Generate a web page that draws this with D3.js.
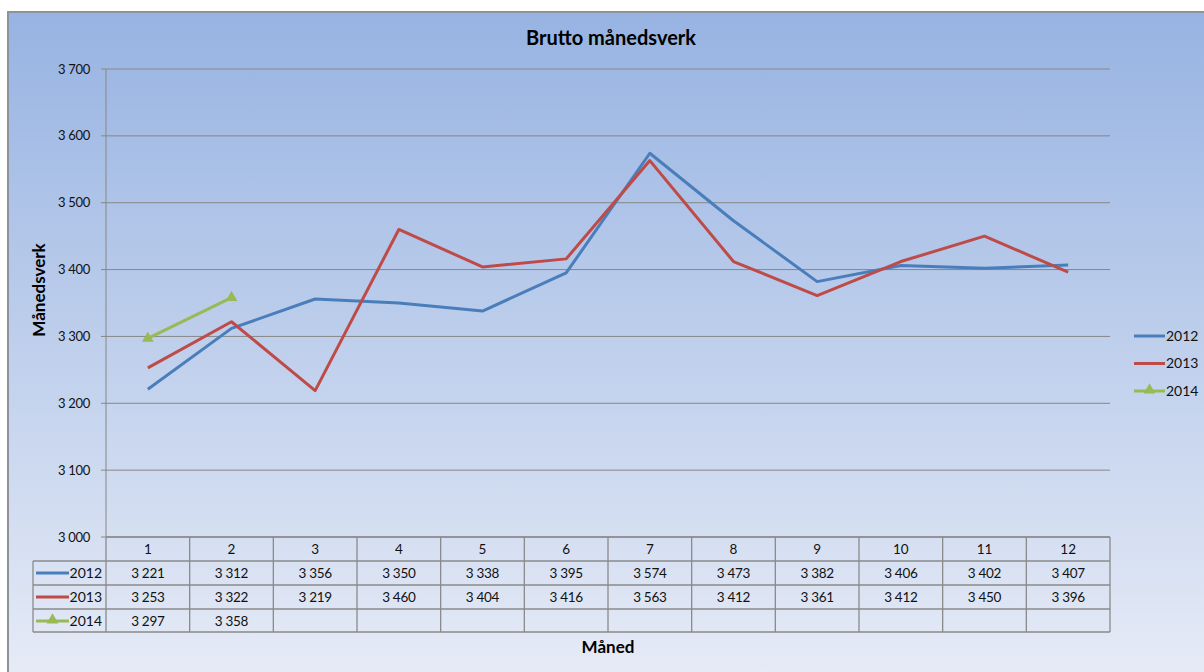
<!DOCTYPE html>
<html><head><meta charset="utf-8">
<script src="https://cdn.jsdelivr.net/npm/d3@7"></script>
<style>body{margin:0;background:#fff;}svg{display:block;font-family:Lato,"Open Sans",sans-serif;}</style>
</head><body><svg id="c" width="1204" height="672"></svg>
<script>
const months = [1,2,3,4,5,6,7,8,9,10,11,12];
const s2012 = [3221,3312,3356,3350,3338,3395,3574,3473,3382,3406,3402,3407];
const s2013 = [3253,3322,3219,3460,3404,3416,3563,3412,3361,3412,3450,3396];
const s2014 = [3297,3358];
const yTicks = [3000,3100,3200,3300,3400,3500,3600,3700];
const seriesNames = ["2012","2013","2014"];
const colors = ["#4a7ebb","#be4b48","#98b954"];
const title = "Brutto månedsverk";
const yTitle = "Månedsverk";
const xTitle = "Måned";

const series = [s2012,s2013,s2014];
const svg = d3.select("#c");
const defs = svg.append("defs");
const g = defs.append("linearGradient").attr("id","bg").attr("x1",0).attr("y1",0).attr("x2",0).attr("y2",1);
g.append("stop").attr("offset","0%").attr("stop-color","#97b3e2");
g.append("stop").attr("offset","100%").attr("stop-color","#e6ebf6");

svg.append("rect").attr("x",8).attr("y",12).attr("width",1200).attr("height",665)
  .attr("fill","url(#bg)").attr("stroke","#8e9399").attr("stroke-width",2);

const L=106,R=1110,T=69,B=537;
const x = d3.scaleBand().domain(months).range([L,R]);
const y = d3.scaleLinear().domain([3000,3700]).range([B,T]);
const fmt = v => d3.format(",")(v).replace(/,/g,"\u00a0");

// gridlines
svg.append("g").selectAll("line").data(yTicks).join("line")
  .attr("x1",L-5).attr("x2",R).attr("y1",d=>y(d)).attr("y2",d=>y(d))
  .attr("stroke","#878787").attr("stroke-width",1);
svg.append("line").attr("x1",L).attr("x2",L).attr("y1",T).attr("y2",B).attr("stroke","#878787");
svg.append("g").selectAll("text").data(yTicks).join("text")
  .attr("x",L-16).attr("y",d=>y(d)).attr("dy","0.35em").attr("text-anchor","end")
  .attr("font-size",13).attr("fill","#111").attr("letter-spacing",-0.3).text(d=>fmt(d));

// lines
const line = d3.line().x((d,i)=>x(months[i])+x.bandwidth()/2).y(d=>y(d));
series.forEach((s,k)=>{
  svg.append("path").datum(s).attr("d",line).attr("fill","none")
    .attr("stroke",colors[k]).attr("stroke-width",3).attr("stroke-linejoin","round");
});
const tri = d3.symbol().type(d3.symbolTriangle).size(60);
svg.append("g").selectAll("path").data(s2014).join("path")
  .attr("transform",(d,i)=>`translate(${x(months[i])+x.bandwidth()/2},${y(d)})`)
  .attr("d",tri).attr("fill",colors[2]);

// table
const rowH=24, tblL=33;
const tb = svg.append("g").attr("stroke","#8a8a8a").attr("stroke-width",1.3);
for(let r=0;r<=4;r++){
  const yy = B + r*rowH - (r==4?1:0);
  tb.append("line").attr("x1",r==0?L:tblL).attr("x2",R).attr("y1",yy).attr("y2",yy);
}
months.forEach((m,i)=>{
  tb.append("line").attr("x1",x(m)).attr("x2",x(m)).attr("y1",B).attr("y2",B+4*rowH-1);
});
tb.append("line").attr("x1",R).attr("x2",R).attr("y1",B).attr("y2",B+4*rowH-1);
tb.append("line").attr("x1",tblL).attr("x2",tblL).attr("y1",B+rowH).attr("y2",B+4*rowH-1);

svg.append("g").selectAll("text").data(months).join("text")
  .attr("x",d=>x(d)+x.bandwidth()/2).attr("y",B+rowH/2).attr("dy","0.35em")
  .attr("text-anchor","middle").attr("font-size",13.5).attr("fill","#111").text(d=>d);
series.forEach((s,k)=>{
  const cy = B+(k+1)*rowH+rowH/2;
  svg.append("g").selectAll("text").data(s).join("text")
    .attr("x",(d,i)=>x(months[i])+x.bandwidth()/2).attr("y",cy).attr("dy","0.35em")
    .attr("text-anchor","middle").attr("font-size",13.5).attr("fill","#111").attr("letter-spacing",-0.3).text(d=>fmt(d));
  svg.append("line").attr("x1",36).attr("x2",69).attr("y1",cy).attr("y2",cy)
    .attr("stroke",colors[k]).attr("stroke-width",3);
  if(k==2) svg.append("path").attr("transform",`translate(52.5,${cy-1})`).attr("d",tri).attr("fill",colors[2]);
  svg.append("text").attr("x",102).attr("y",cy).attr("dy","0.35em").attr("text-anchor","end")
    .attr("font-size",14).attr("fill","#111").text(seriesNames[k]);
});

// legend
seriesNames.forEach((n,k)=>{
  const ly = 336 + k*27.5;
  svg.append("line").attr("x1",1134).attr("x2",1165).attr("y1",ly).attr("y2",ly)
    .attr("stroke",colors[k]).attr("stroke-width",3);
  if(k==2) svg.append("path").attr("transform",`translate(1149.5,${ly-1})`).attr("d",tri).attr("fill",colors[2]);
  svg.append("text").attr("x",1166).attr("y",ly).attr("dy","0.35em").attr("font-size",14)
    .attr("fill","#111").text(n);
});

// titles
svg.append("text").attr("x",611).attr("y",38).attr("dy","0.35em").attr("text-anchor","middle")
  .attr("font-size",20).attr("font-weight","bold").attr("fill","#000").text(title);
svg.append("text").attr("transform","translate(39,290) rotate(-90)").attr("dy","0.35em")
  .attr("text-anchor","middle").attr("font-size",17).attr("font-weight","bold").text(yTitle);
svg.append("text").attr("x",608).attr("y",647).attr("dy","0.35em").attr("text-anchor","middle")
  .attr("font-size",17).attr("font-weight","bold").text(xTitle);
</script></body></html>
